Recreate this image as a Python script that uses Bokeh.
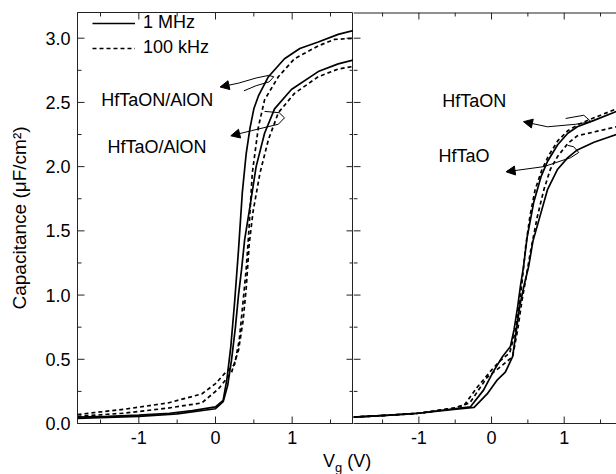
from bokeh.plotting import figure
from bokeh.models import (LinearAxis, FixedTicker, Range1d, Arrow, NormalHead,
                          Legend, LegendItem, Div, PrintfTickFormatter)
from bokeh.layouts import row, column
from bokeh.core.properties import value
from bokeh.embed import file_html
from bokeh.resources import INLINE

FONT = "Liberation Sans"

# ---------------- data: left panel (HfTaON/AlON, HfTaO/AlON) ----------------
a1_x = [-1.8, -1.4, -1.0, -0.6, -0.3, 0.0, 0.1, 0.15, 0.2, 0.25, 0.3, 0.35, 0.4, 0.45, 0.5, 0.56, 0.69, 0.9, 1.1, 1.34, 1.6, 1.8]
a1_y = [0.05, 0.055, 0.065, 0.08, 0.1, 0.13, 0.18, 0.35, 0.6, 0.95, 1.35, 1.8, 2.1, 2.3, 2.45, 2.55, 2.70, 2.84, 2.92, 2.97, 3.03, 3.06]

a2_x = [-1.8, -1.2, -0.62, -0.18, 0.0, 0.12, 0.25, 0.31, 0.36, 0.40, 0.43, 0.48, 0.56, 0.64, 0.82, 1.03, 1.34, 1.55, 1.8]
a2_y = [0.07, 0.11, 0.16, 0.23, 0.31, 0.39, 0.46, 0.65, 0.95, 1.2, 1.45, 1.95, 2.31, 2.52, 2.70, 2.84, 2.94, 2.99, 3.0]

b1_x = [-1.8, -1.0, -0.5, 0.0, 0.1, 0.16, 0.21, 0.26, 0.30, 0.34, 0.38, 0.45, 0.53, 0.64, 0.77, 0.99, 1.34, 1.6, 1.8]
b1_y = [0.04, 0.055, 0.075, 0.115, 0.17, 0.3, 0.5, 0.75, 1.0, 1.2, 1.43, 1.69, 2.0, 2.26, 2.45, 2.60, 2.74, 2.80, 2.83]

b2_x = [-1.8, -1.2, -0.62, -0.18, 0.04, 0.21, 0.30, 0.36, 0.40, 0.44, 0.49, 0.58, 0.69, 0.82, 1.03, 1.34, 1.6, 1.8]
b2_y = [0.055, 0.08, 0.12, 0.16, 0.27, 0.40, 0.57, 0.8, 1.05, 1.40, 1.65, 1.95, 2.21, 2.42, 2.57, 2.70, 2.76, 2.78]

# ---------------- data: right panel (HfTaON, HfTaO) ----------------
c1_x = [-1.9, -1.4, -1.0, -0.52, -0.29, -0.11, 0.03, 0.15, 0.26, 0.31, 0.36, 0.40, 0.44, 0.49, 0.58, 0.68, 0.77, 0.91, 1.05, 1.18, 1.41, 1.72]
c1_y = [0.05, 0.065, 0.08, 0.115, 0.13, 0.26, 0.41, 0.52, 0.6, 0.73, 0.91, 1.08, 1.22, 1.45, 1.72, 1.92, 2.04, 2.17, 2.26, 2.31, 2.36, 2.43]

c2_x = [-1.9, -1.4, -1.0, -0.52, -0.38, -0.2, -0.01, 0.12, 0.25, 0.33, 0.38, 0.42, 0.47, 0.53, 0.60, 0.69, 0.78, 0.91, 1.05, 1.2, 1.41, 1.72]
c2_y = [0.05, 0.065, 0.08, 0.12, 0.14, 0.28, 0.41, 0.49, 0.55, 0.72, 0.92, 1.1, 1.38, 1.62, 1.82, 1.97, 2.08, 2.2, 2.28, 2.33, 2.38, 2.45]

c3_x = [-1.9, -1.4, -1.0, -0.52, -0.24, -0.06, 0.08, 0.19, 0.29, 0.34, 0.39, 0.45, 0.51, 0.57, 0.68, 0.77, 0.91, 1.05, 1.18, 1.41, 1.72]
c3_y = [0.05, 0.065, 0.08, 0.11, 0.125, 0.23, 0.34, 0.40, 0.52, 0.72, 0.92, 1.08, 1.22, 1.42, 1.64, 1.82, 1.98, 2.07, 2.13, 2.19, 2.25]

c4_x = [-1.9, -1.4, -1.0, -0.52, -0.3, -0.06, 0.12, 0.29, 0.36, 0.42, 0.47, 0.54, 0.63, 0.72, 0.81, 0.91, 1.05, 1.18, 1.41, 1.72]
c4_y = [0.05, 0.065, 0.08, 0.12, 0.16, 0.36, 0.44, 0.52, 0.73, 0.96, 1.12, 1.35, 1.61, 1.82, 1.98, 2.08, 2.18, 2.24, 2.27, 2.31]

# ---------------- annotations ----------------
left_labels = ["HfTaON/AlON", "HfTaO/AlON"]
left_label_x = [-1.49, -1.41]
left_label_y = [2.52, 2.15]
right_labels = ["HfTaON", "HfTaO"]
right_label_x = [-0.68, -0.73]
right_label_y = [2.51, 2.08]

# lasso paths (last point -> arrow tip)
lasso_l1_x = [0.37, 0.53, 0.70, 0.76, 0.69, 0.53, 0.30]
lasso_l1_y = [2.59, 2.63, 2.66, 2.70, 2.71, 2.69, 2.65]
tip_l1 = (0.06, 2.62)
lasso_l2_x = [0.64, 0.83, 0.90, 0.82, 0.47]
lasso_l2_y = [2.43, 2.42, 2.38, 2.33, 2.28]
tip_l2 = (0.20, 2.24)
lasso_r1_x = [1.02, 1.27, 1.37, 1.16, 0.77]
lasso_r1_y = [2.375, 2.40, 2.35, 2.33, 2.31]
tip_r1 = (0.44, 2.35)
lasso_r2_x = [1.05, 1.13, 1.20, 1.09, 0.72]
lasso_r2_y = [2.165, 2.155, 2.11, 2.07, 2.00]
tip_r2 = (0.20, 1.96)

x_major = [-1, 0, 1]
x_minor = [-1.5, -0.5, 0.5, 1.5]
y_major = [0.0, 0.5, 1.0, 1.5, 2.0, 2.5, 3.0]
y_minor = [0.25, 0.75, 1.25, 1.75, 2.25, 2.75]

Y_RANGE = (0, 3.2)
LEFT_X_RANGE = (-1.8, 1.8)
RIGHT_X_RANGE = (-1.9, 1.72)

FIG_H = 451
BORDER_TOP = 12
BORDER_BOTTOM = 28
FRAME_H = FIG_H - BORDER_TOP - BORDER_BOTTOM
LEFT_W, LEFT_BORDER = 353, 77
RIGHT_W = 263

AX_COLOR = "#222222"
LW = 1.7
DASH = "4 3"
MAJ_LEN = 7   # px
MIN_LEN = 4   # px


def style_axis(ax, fmt):
    ax.axis_line_color = AX_COLOR
    ax.major_tick_in = 0
    ax.major_tick_out = 0
    ax.minor_tick_in = 0
    ax.minor_tick_out = 0
    ax.major_tick_line_color = None
    ax.minor_tick_line_color = None
    ax.formatter = PrintfTickFormatter(format=fmt)
    ax.major_label_text_font = FONT
    ax.major_label_text_font_size = "18px"
    ax.major_label_text_color = "black"
    ax.major_label_standoff = 7
    ax.axis_label_text_font = FONT
    ax.axis_label_text_font_style = "normal"
    ax.axis_label_text_color = "black"


def inward_ticks(p, xr, frame_w, sides):
    """Inward tick marks along the frame edges at the tick values (lengths in px)."""
    x0, x1 = xr
    y0, y1 = Y_RANGE
    dx = (x1 - x0) / frame_w   # data per px
    dy = (y1 - y0) / FRAME_H
    kw = dict(line_color=AX_COLOR, line_width=1)
    for vals, ln in ((x_major, MAJ_LEN), (x_minor, MIN_LEN)):
        n = len(vals)
        if "bottom" in sides:
            p.segment(x0=vals, y0=[y0] * n, x1=vals, y1=[y0 + ln * dy] * n, **kw)
        if "top" in sides:
            p.segment(x0=vals, y0=[y1] * n, x1=vals, y1=[y1 - ln * dy] * n, **kw)
    for vals, ln in ((y_major, MAJ_LEN), (y_minor, MIN_LEN)):
        n = len(vals)
        if "left" in sides:
            p.segment(x0=[x0] * n, y0=vals, x1=[x0 + ln * dx] * n, y1=vals, **kw)
        if "right" in sides:
            p.segment(x0=[x1] * n, y0=vals, x1=[x1 - ln * dx] * n, y1=vals, **kw)
    if "topline" in sides:
        p.segment(x0=[x0], y0=[y1], x1=[x1], y1=[y1], line_color=AX_COLOR, line_width=2)


def make_fig(width, xr, min_left, with_yaxis):
    p = figure(width=width, height=FIG_H, x_range=Range1d(*xr), y_range=Range1d(*Y_RANGE),
               output_backend="svg", toolbar_location=None,
               min_border_left=min_left, min_border_right=0, min_border_top=BORDER_TOP,
               min_border_bottom=BORDER_BOTTOM, x_axis_location=None, y_axis_location=None)
    p.grid.visible = False
    bx = LinearAxis(ticker=FixedTicker(ticks=x_major, minor_ticks=x_minor))
    style_axis(bx, "%d")
    p.add_layout(bx, "below")
    if with_yaxis:
        ly = LinearAxis(ticker=FixedTicker(ticks=y_major, minor_ticks=y_minor))
        style_axis(ly, "%.1f")
        ly.axis_label = "Capacitance (\u03bcF/cm\u00b2)"
        ly.axis_label_text_font_size = "19px"
        ly.axis_label_standoff = 12
        p.add_layout(ly, "left")
    return p


left = make_fig(LEFT_W, LEFT_X_RANGE, LEFT_BORDER, True)
left.outline_line_color = AX_COLOR
inward_ticks(left, LEFT_X_RANGE, LEFT_W - LEFT_BORDER, ("bottom", "top", "left", "right"))

right = make_fig(RIGHT_W, RIGHT_X_RANGE, 0, False)
right.outline_line_color = None
inward_ticks(right, RIGHT_X_RANGE, RIGHT_W, ("bottom", "top", "left", "topline"))

# curves
r_a1 = left.line(a1_x, a1_y, line_color="black", line_width=LW)
r_a2 = left.line(a2_x, a2_y, line_color="black", line_width=LW, line_dash=DASH)
left.line(b1_x, b1_y, line_color="black", line_width=LW)
left.line(b2_x, b2_y, line_color="black", line_width=LW, line_dash=DASH)

right.line(c1_x, c1_y, line_color="black", line_width=LW)
right.line(c2_x, c2_y, line_color="black", line_width=LW, line_dash=DASH)
right.line(c3_x, c3_y, line_color="black", line_width=LW)
right.line(c4_x, c4_y, line_color="black", line_width=LW, line_dash=DASH)

# legend
legend = Legend(items=[LegendItem(label="1 MHz", renderers=[r_a1]),
                       LegendItem(label="100 kHz", renderers=[r_a2])],
                location=(13, 363), padding=2, spacing=4, glyph_width=43,
                glyph_height=20, label_height=20, label_standoff=8,
                label_text_font=FONT, label_text_font_size="18px", label_text_color="black",
                border_line_alpha=0, background_fill_alpha=0)
left.add_layout(legend)

# text labels
left.text(left_label_x, left_label_y, text=left_labels, text_font=value(FONT),
          text_font_size="18px", text_baseline="middle", text_align="left", text_color="black")
right.text(right_label_x, right_label_y, text=right_labels, text_font=value(FONT),
           text_font_size="18px", text_baseline="middle", text_align="left", text_color="black")

# lassos with arrows
for p, lx, ly_, tip in [(left, lasso_l1_x, lasso_l1_y, tip_l1),
                        (left, lasso_l2_x, lasso_l2_y, tip_l2),
                        (right, lasso_r1_x, lasso_r1_y, tip_r1),
                        (right, lasso_r2_x, lasso_r2_y, tip_r2)]:
    p.line(lx, ly_, line_color="black", line_width=1)
    p.add_layout(Arrow(end=NormalHead(size=9, fill_color="black", line_color="black", line_width=1),
                       x_start=lx[-1], y_start=ly_[-1], x_end=tip[0], y_end=tip[1],
                       line_color="black", line_width=1))

xtitle = Div(text='<span style="display:inline-block; margin-left:323px; '
                  'font-family:\'Liberation Sans\', Arial, sans-serif; font-size:18px; '
                  'line-height:20px; color:black;">V<sub style="font-size:13px;">g</sub> (V)</span>',
             width=616, height=23, margin=(0, 0, 0, 0))

layout = column(row(left, right), xtitle)
open("out.html", "w").write(file_html(layout, INLINE))
